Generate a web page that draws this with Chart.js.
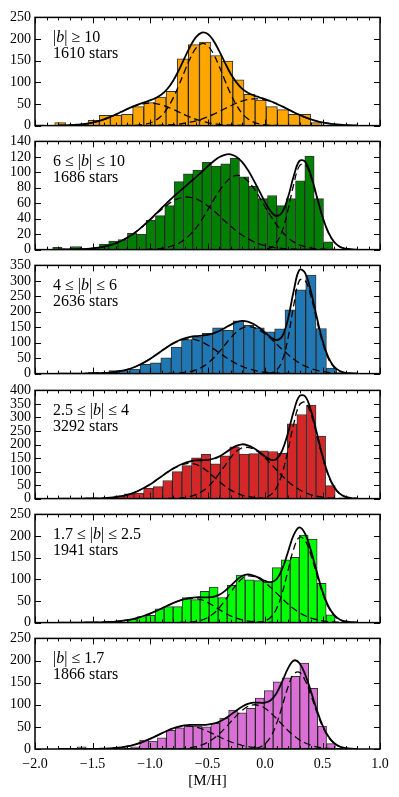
<!DOCTYPE html>
<html>
<head>
<meta charset="utf-8">
<script src="https://cdn.jsdelivr.net/npm/chart.js@4.4.0/dist/chart.umd.min.js"></script>
<style>
  body { margin: 0; background: #fff; }
  #wrap { position: relative; width: 399px; height: 797px; overflow: hidden; }
  #wrap canvas { position: absolute; left: 0; }
  .note { position: absolute; left: 53px; font-family: "Liberation Serif", "DejaVu Serif", serif;
          font-size: 16px; line-height: 15.5px; color: #000; white-space: nowrap; }
</style>
</head>
<body>
<div id="wrap"></div>
<script>
// histogram bins per panel: first bin edge, bin width, counts
var binStart = [-2.022, -1.846, -1.806, -1.722, -1.582, -1.632];
var binWidth = [0.0968, 0.0812, 0.09, 0.0833, 0.0783, 0.0774];

var counts1 = [2, 0, 7, 1, 3, 12, 24, 24, 26, 44, 53, 66, 79, 154, 187, 193, 162, 149, 106, 72, 59, 44, 37, 26, 26, 7, 1];
var counts2 = [3, 1, 4, 1, 2, 7, 11, 13, 21, 20, 38, 44, 57, 88, 98, 103, 113, 108, 111, 118, 94, 82, 66, 70, 57, 66, 89, 121, 66, 10];
var counts3 = [2, 0, 0, 4, 1, 10, 10, 15, 30, 35, 51, 86, 110, 119, 130, 148, 140, 171, 156, 148, 135, 145, 206, 271, 319, 146, 18];
var counts4 = [1, 2, 2, 1, 0, 10, 18, 20, 38, 44, 67, 100, 122, 151, 164, 129, 158, 191, 165, 166, 177, 174, 167, 276, 311, 346, 231, 48];
var counts5 = [2, 0, 1, 1, 2, 8, 14, 17, 32, 37, 37, 58, 53, 72, 82, 58, 86, 110, 99, 97, 93, 127, 145, 151, 202, 193, 91, 18];
var counts6 = [5, 0, 1, 1, 1, 2, 5, 20, 18, 25, 42, 48, 52, 52, 50, 58, 70, 88, 82, 92, 115, 132, 152, 161, 164, 194, 137, 52, 12];

// [M/H] values where the fitted curves were read
var fitX = [-1.8, -1.75, -1.7, -1.65, -1.6, -1.55, -1.5, -1.45, -1.4, -1.35, -1.3, -1.25, -1.2, -1.15, -1.1, -1.05,
  -1.0, -0.95, -0.9, -0.85, -0.8, -0.75, -0.7, -0.65, -0.6, -0.55, -0.5, -0.45, -0.4, -0.35, -0.3, -0.25, -0.2, -0.15, -0.1, -0.05,
  0.0, 0.05, 0.1, 0.15, 0.2, 0.25, 0.3, 0.35, 0.4, 0.45, 0.5, 0.55, 0.6, 0.65, 0.7, 0.75, 0.8];

// panel 1
var fitTotal1 = [0.3, 0.6, 1.0, 1.8, 2.9, 4.6, 7.0, 10.3, 14.5, 19.5, 25.3, 31.6, 38.0, 43.8, 49.1, 53.8,
  58.3, 63.8, 71.7, 84.5, 103.1, 127.6, 155.7, 183.1, 204.5, 215, 212.2, 196.9, 173.2, 146.2, 120.5, 100.5, 85.3, 76.1, 70, 65.4,
  61.1, 56.3, 50.6, 44.3, 37.6, 30.9, 24.7, 19.1, 14.3, 10.3, 7.3, 5.0, 3.2, 2.0, 1.2, 0.7, 0.4];
var fitA1 = [0.3, 0.6, 1.0, 1.8, 2.9, 4.6, 7.0, 10.3, 14.5, 19.5, 25.3, 31.6, 37.8, 43.4, 48.0, 51.0,
  52, 51.0, 48.0, 43.4, 37.8, 31.6, 25.3, 19.5, 14.5, 10.3, 7.0, 4.6, 2.9, 1.8, 1.0, 0.6, 0.3, 0, 0, 0,
  0, 0, 0, 0, 0, 0, 0, 0, 0, 0, 0, 0, 0, 0, 0, 0, 0];
var fitB1 = [0, 0, 0, 0, 0, 0, 0, 0, 0, 0, 0, 0, 0.2, 0.4, 1.1, 2.8,
  6.0, 12.3, 22.8, 39.7, 63, 92.5, 125, 155.8, 179, 189.6, 185, 166.4, 138, 105.4, 74, 48.3, 28.5, 16, 8.2, 3.8,
  1.6, 0.6, 0.2, 0, 0, 0, 0, 0, 0, 0, 0, 0, 0, 0, 0, 0, 0];
var fitC1 = [0, 0, 0, 0, 0, 0, 0, 0, 0, 0, 0, 0, 0, 0, 0, 0,
  0.3, 0.5, 0.9, 1.4, 2.3, 3.5, 5.4, 7.8, 11.0, 15.1, 20.2, 25.9, 32.3, 39, 45.5, 51.6, 56.5, 60.1, 61.8, 61.6,
  59.5, 55.7, 50.4, 44.3, 37.6, 30.9, 24.7, 19.1, 14.3, 10.3, 7.3, 5.0, 3.2, 2.0, 1.2, 0.7, 0.4];

// panel 2
var fitTotal2 = [0.1, 0.1, 0.2, 0.4, 0.6, 1.0, 1.6, 2.5, 3.8, 5.6, 8.0, 11.2, 15.2, 19.9, 25.5, 31.9,
  38.9, 46.2, 53.6, 60.8, 67.8, 74.4, 80.9, 87.4, 93.8, 100.6, 107.5, 114, 119.4, 122.7, 123.3, 120.2, 113.5, 103.2, 90.2, 75.9,
  61.5, 49.5, 43.5, 48.5, 67.7, 95.1, 114.8, 113.6, 95.6, 69.1, 42.5, 22.5, 10.1, 3.8, 1.2, 0.3, 0];
var fitA2 = [0.1, 0.1, 0.2, 0.4, 0.6, 1.0, 1.6, 2.5, 3.8, 5.6, 8.0, 11.2, 15.2, 19.9, 25.5, 31.9,
  38.5, 45.4, 52, 57.9, 62.8, 66.2, 67.9, 67.7, 65.6, 61.9, 56.8, 50.7, 44, 37.1, 30.5, 24.3, 18.9, 14.3, 10.4, 7.5,
  5.2, 3.5, 2.3, 1.5, 1.0, 0.6, 0.3, 0.2, 0.1, 0, 0, 0, 0, 0, 0, 0, 0];
var fitB2 = [0, 0, 0, 0, 0, 0, 0, 0, 0, 0, 0, 0, 0, 0, 0, 0,
  0.4, 0.8, 1.6, 2.9, 5.0, 8.2, 13, 19.7, 28.2, 38.7, 50.7, 63.3, 75.4, 85.6, 92.8, 95.9, 94.6, 88.9, 79.8, 68.3,
  55.7, 43.4, 32.2, 22.8, 15.4, 9.9, 6.0, 3.6, 2.0, 1.1, 0.5, 0.3, 0.1, 0, 0, 0, 0];
var fitC2 = [0, 0, 0, 0, 0, 0, 0, 0, 0, 0, 0, 0, 0, 0, 0, 0,
  0, 0, 0, 0, 0, 0, 0, 0, 0, 0, 0, 0, 0, 0, 0, 0, 0, 0, 0, 0.1,
  0.6, 2.6, 9, 24.2, 51.3, 84.6, 108.5, 109.8, 93.5, 68, 42, 22.2, 10, 3.8, 1.2, 0.3, 0];

// panel 3
var fitTotal3 = [0, 0, 0, 0.1, 0.2, 0.3, 0.6, 1.1, 1.9, 3.4, 5.4, 8.5, 12.9, 18.9, 26.9, 36.4,
  47.5, 60.2, 73.2, 86.1, 97.7, 107.2, 114.2, 118.6, 121.2, 122.9, 125.5, 130.2, 137.6, 147.2, 157.7, 166.5, 170.7, 168.4, 160.4, 148.3,
  133.5, 117.8, 108.3, 120.9, 176.6, 268.1, 335.6, 324.4, 264.6, 183, 107.5, 53.4, 22.9, 8.4, 2.7, 0.9, 0.3];
var fitA3 = [0, 0, 0, 0.1, 0.2, 0.3, 0.6, 1.1, 1.9, 3.4, 5.4, 8.5, 12.9, 18.9, 26.9, 36.4,
  47.5, 60.1, 73.1, 85.8, 96.9, 105.5, 110.7, 111.9, 109.1, 102.4, 92.7, 80.8, 68, 55, 42.9, 32.4, 23.4, 16.4, 11.1, 7.1,
  4.5, 2.7, 1.6, 0.9, 0.5, 0.3, 0.1, 0.1, 0, 0, 0, 0, 0, 0, 0, 0, 0];
var fitB3 = [0, 0, 0, 0, 0, 0, 0, 0, 0, 0, 0, 0, 0, 0, 0, 0,
  0, 0.1, 0.1, 0.3, 0.8, 1.7, 3.5, 6.7, 12.1, 20.5, 32.8, 49.4, 69.6, 92.2, 114.8, 134.1, 147.3, 152, 149.3, 141.2,
  128.7, 113.1, 95.8, 78.1, 61.4, 46.5, 33.9, 23.9, 16.3, 10.6, 6.7, 4.1, 2.4, 1.3, 0.7, 0.4, 0.2];
var fitC3 = [0, 0, 0, 0, 0, 0, 0, 0, 0, 0, 0, 0, 0, 0, 0, 0,
  0, 0, 0, 0, 0, 0, 0, 0, 0, 0, 0, 0, 0, 0, 0, 0, 0, 0, 0, 0,
  0.3, 2.0, 10.9, 41.9, 114.7, 221.3, 301.6, 300.4, 248.3, 172.4, 100.8, 49.3, 20.5, 7.1, 2.0, 0.5, 0.1];

// panel 4
var fitTotal4 = [0, 0, 0, 0.1, 0.2, 0.3, 0.6, 1.1, 2.0, 3.5, 5.7, 9.1, 13.9, 20.4, 29, 39.8,
  52.5, 66.8, 82.0, 97.0, 110.9, 122.6, 131.6, 137.8, 141.2, 141.8, 142.6, 147.3, 155.3, 168.2, 182.9, 195.1, 200.8, 197.1, 187.2, 172.4,
  155.8, 143.5, 146.5, 178.2, 242.8, 322.9, 379.2, 377.6, 325.5, 243.7, 158.2, 89, 43.5, 18.2, 6.8, 2.1, 0.6];
var fitA4 = [0, 0, 0, 0.1, 0.2, 0.3, 0.6, 1.1, 2.0, 3.5, 5.7, 9.1, 13.9, 20.4, 29, 39.8,
  52.5, 66.8, 81.9, 96.7, 110.1, 120.8, 127.7, 130, 126.4, 116.1, 100.8, 82.7, 64.1, 46.8, 32.4, 21.2, 13.1, 7.7, 4.2, 2.2,
  1.1, 0.5, 0.2, 0.1, 0, 0, 0, 0, 0, 0, 0, 0, 0, 0, 0, 0, 0];
var fitB4 = [0, 0, 0, 0, 0, 0, 0, 0, 0, 0, 0, 0, 0, 0, 0, 0,
  0, 0, 0.1, 0.3, 0.8, 1.8, 3.9, 7.8, 14.8, 25.7, 41.8, 64.6, 91.2, 121.4, 150.5, 173.9, 187.7, 189.4, 182.8, 169.3,
  150.7, 129, 106, 83.8, 63.5, 46.4, 32.5, 21.9, 14.1, 8.7, 5.2, 3.0, 1.7, 0.9, 0.5, 0.2, 0.1];
var fitC4 = [0, 0, 0, 0, 0, 0, 0, 0, 0, 0, 0, 0, 0, 0, 0, 0,
  0, 0, 0, 0, 0, 0, 0, 0, 0, 0, 0, 0, 0, 0, 0, 0, 0, 0, 0.2, 0.9,
  4.0, 14, 40.3, 94.3, 179.3, 276.5, 346.7, 355.7, 311.4, 235, 153, 86, 41.8, 17.3, 6.3, 1.9, 0.5];

// panel 5
var fitTotal5 = [0, 0, 0, 0, 0.1, 0.2, 0.3, 0.5, 0.9, 1.5, 2.4, 3.7, 5.5, 8.2, 11.5, 15.8,
  20.8, 26.5, 32.6, 39, 45.0, 50.1, 54.1, 56.9, 58.5, 58.5, 58.2, 59.5, 64.1, 72.8, 84.9, 97.7, 107.7, 111.3, 108.7, 103.2,
  96.6, 93.4, 100.1, 123.8, 163.1, 202.7, 220.1, 204.7, 166.3, 117.6, 72.2, 38.4, 17.8, 7.2, 2.6, 0.9, 0.3];
var fitA5 = [0, 0, 0, 0, 0.1, 0.2, 0.3, 0.5, 0.9, 1.5, 2.4, 3.7, 5.5, 8.2, 11.5, 15.8,
  20.8, 26.5, 32.6, 39, 44.9, 49.9, 53.6, 55.7, 55.7, 52.6, 46.8, 39, 30.6, 22.5, 15.6, 10.1, 6.2, 3.5, 1.9, 1.0,
  0.5, 0.2, 0.1, 0, 0, 0, 0, 0, 0, 0, 0, 0, 0, 0, 0, 0, 0];
var fitB5 = [0, 0, 0, 0, 0, 0, 0, 0, 0, 0, 0, 0, 0, 0, 0, 0,
  0, 0, 0, 0, 0.1, 0.2, 0.5, 1.2, 2.8, 5.9, 11.4, 20.5, 33.5, 50.3, 69.3, 87.6, 101.5, 107.8, 106.6, 101.2,
  92.3, 80.9, 68.1, 55.1, 42.9, 32, 22.9, 15.8, 10.5, 6.7, 4.1, 2.4, 1.4, 0.7, 0.4, 0.2, 0.1];
var fitC5 = [0, 0, 0, 0, 0, 0, 0, 0, 0, 0, 0, 0, 0, 0, 0, 0,
  0, 0, 0, 0, 0, 0, 0, 0, 0, 0, 0, 0, 0, 0, 0, 0, 0, 0, 0.2, 1.0,
  3.8, 12.3, 31.9, 68.7, 120.2, 170.7, 197.2, 188.9, 155.8, 110.9, 68.1, 36, 16.4, 6.5, 2.2, 0.7, 0.2];

// panel 6
var fitTotal6 = [0, 0, 0, 0, 0.1, 0.1, 0.2, 0.5, 0.8, 1.4, 2.4, 3.8, 6.0, 8.9, 12.7, 17.4,
  22.9, 29, 35.4, 41.3, 46.6, 50.7, 53.3, 54.4, 54.6, 54.5, 55.0, 57.3, 61.4, 68.2, 77.1, 86.7, 95.4, 101.8, 104.6, 104.6,
  104.9, 110.3, 126.2, 152.6, 182.2, 199.9, 193.9, 167.9, 129.7, 88.7, 53.7, 28.8, 13.5, 5.6, 2.1, 0.7, 0.2];
var fitA6 = [0, 0, 0, 0, 0.1, 0.1, 0.2, 0.5, 0.8, 1.4, 2.4, 3.8, 6.0, 8.9, 12.7, 17.4,
  22.9, 29, 35.3, 41.2, 46.3, 50, 51.8, 51.6, 49.4, 45.4, 40.1, 34.1, 27.8, 21.7, 16.4, 11.9, 8.2, 5.5, 3.5, 2.2,
  1.3, 0.7, 0.4, 0.2, 0.1, 0, 0, 0, 0, 0, 0, 0, 0, 0, 0, 0, 0];
var fitB6 = [0, 0, 0, 0, 0, 0, 0, 0, 0, 0, 0, 0, 0, 0, 0, 0,
  0, 0, 0.1, 0.1, 0.3, 0.7, 1.5, 2.8, 5.2, 9.1, 14.9, 23.2, 33.6, 46.5, 60.7, 74.8, 87.2, 96, 99.9, 98.4,
  92, 81.7, 68.9, 55.1, 41.9, 30.3, 20.7, 13.5, 8.4, 4.9, 2.8, 1.5, 0.7, 0.3, 0.2, 0.1, 0];
var fitC6 = [0, 0, 0, 0, 0, 0, 0, 0, 0, 0, 0, 0, 0, 0, 0, 0,
  0, 0, 0, 0, 0, 0, 0, 0, 0, 0, 0, 0, 0, 0, 0, 0, 0, 0.3, 1.2, 4.0,
  11.6, 27.9, 56.9, 97.3, 140.2, 169.6, 173.2, 154.4, 121.3, 83.8, 50.9, 27.3, 12.8, 5.3, 1.9, 0.6, 0.2];

var counts = [counts1, counts2, counts3, counts4, counts5, counts6];
var fitTotal = [fitTotal1, fitTotal2, fitTotal3, fitTotal4, fitTotal5, fitTotal6];
var fitParts = [[fitA1, fitB1, fitC1], [fitA2, fitB2, fitC2], [fitA3, fitB3, fitC3],
                [fitA4, fitB4, fitC4], [fitA5, fitB5, fitC5], [fitA6, fitB6, fitC6]];

// latitude cuts (|b| in degrees) and star numbers per panel
var latRange = [[10, null], [6, 10], [4, 6], [2.5, 4], [1.7, 2.5], [null, 1.7]];
var starCounts = [1610, 1686, 2636, 3292, 1941, 1866];

// y axis ranges and tick steps
var yMax = [250, 140, 350, 400, 250, 250];
var yStep = [50, 20, 50, 50, 50, 50];

var barColors = ["#ffa500", "#008000", "#1f77b4", "#d62728", "#00ff00", "#da70d6"];

var serif = '"Liberation Serif", "DejaVu Serif", serif';
var panelTops = [15, 139, 263, 388, 512, 636];
var panelH = 113;
var wrap = document.getElementById("wrap");

// box round the plot with inward ticks on all four sides
var frameTicks = {
  id: "frameTicks",
  afterDatasetsDraw: function (chart) {
    var a = chart.chartArea, ctx = chart.ctx;
    var xs = chart.scales.x, ys = chart.scales.y;
    ctx.save();
    ctx.strokeStyle = "#000";
    ctx.lineWidth = 1;
    ctx.beginPath();
    for (var k = 0; k <= 30; k++) {
      var px = Math.round(xs.getPixelForValue(-2 + k * 0.1)) + 0.5;
      var len = (k % 5 === 0) ? 6 : 3;
      ctx.moveTo(px, a.bottom); ctx.lineTo(px, a.bottom - len);
      ctx.moveTo(px, a.top); ctx.lineTo(px, a.top + len);
    }
    ys.ticks.forEach(function (t) {
      var py = Math.round(ys.getPixelForValue(t.value)) + 0.5;
      ctx.moveTo(a.left, py); ctx.lineTo(a.left + 6, py);
      ctx.moveTo(a.right, py); ctx.lineTo(a.right - 6, py);
    });
    ctx.stroke();
    ctx.lineWidth = 1.5;
    ctx.strokeRect(a.left, a.top, a.right - a.left, a.bottom - a.top);
    ctx.restore();
  }
};

function latText(r) {
  var b = "|<i>b</i>|";
  if (r[0] === null) return b + " \u2264 " + r[1];
  if (r[1] === null) return b + " \u2265 " + r[0];
  return r[0] + " \u2264 " + b + " \u2264 " + r[1];
}

function curve(arr) {
  return fitX.map(function (x, k) { return { x: x, y: arr[k] }; });
}

function makePanel(i) {
  var last = (i === 5);
  var padTop = 10, padBottom = last ? 0 : 10, axisH = last ? 49 : 0;
  var cv = document.createElement("canvas");
  cv.width = 399;
  cv.height = padTop + panelH + padBottom + axisH;
  cv.style.top = (panelTops[i] - padTop) + "px";
  wrap.appendChild(cv);

  var bars = counts[i].map(function (c, k) {
    return { x: binStart[i] + (k + 0.5) * binWidth[i], y: c };
  });

  var datasets = [{
    type: "line", data: curve(fitTotal[i]), borderColor: "#000", borderWidth: 1.8,
    pointRadius: 0, tension: 0.4, fill: false, order: 1
  }];
  fitParts[i].forEach(function (p) {
    datasets.push({
      type: "line", data: curve(p), borderColor: "#000", borderWidth: 1.3, borderDash: [7, 4],
      pointRadius: 0, tension: 0.4, fill: false, order: 1
    });
  });
  datasets.push({
    type: "bar", data: bars, backgroundColor: barColors[i], borderColor: "rgba(0,0,0,0.8)",
    borderWidth: 1, borderSkipped: false, barPercentage: 1, categoryPercentage: 1, order: 2
  });

  var xAxis = {
    type: "linear", min: -2, max: 1, offset: false, display: last,
    grid: { display: false, drawTicks: false }, border: { display: false },
    ticks: {
      stepSize: 0.5, autoSkip: false, maxRotation: 0, padding: 7, color: "#000",
      font: { family: serif, size: 14 },
      callback: function (v) {
        var s = Math.abs(v).toFixed(1);
        return v < -1e-9 ? "\u2212" + s : s;
      }
    },
    title: {
      display: last, text: "[M/H]", color: "#000",
      font: { family: serif, size: 15 }, padding: { top: 0, bottom: 8 }
    },
    afterFit: function (s) { s.height = axisH; }
  };

  new Chart(cv, {
    type: "bar",
    data: { datasets: datasets },
    options: {
      responsive: false,
      animation: false,
      layout: { padding: { left: 0, right: 19, top: padTop, bottom: padBottom } },
      plugins: { legend: { display: false }, tooltip: { enabled: false } },
      scales: {
        x: xAxis,
        y: {
          min: 0, max: yMax[i],
          grid: { display: false, drawTicks: false }, border: { display: false },
          ticks: { stepSize: yStep[i], autoSkip: false, padding: 4, color: "#000",
                   font: { family: serif, size: 14 } },
          afterFit: function (s) { s.width = 35; }
        }
      }
    },
    plugins: [frameTicks]
  });

  var note = document.createElement("div");
  note.className = "note";
  note.style.top = (panelTops[i] + 14) + "px";
  note.innerHTML = latText(latRange[i]) + "<br>" + starCounts[i] + " stars";
  wrap.appendChild(note);
}

for (var i = 0; i < 6; i++) makePanel(i);
</script>
</body>
</html>
